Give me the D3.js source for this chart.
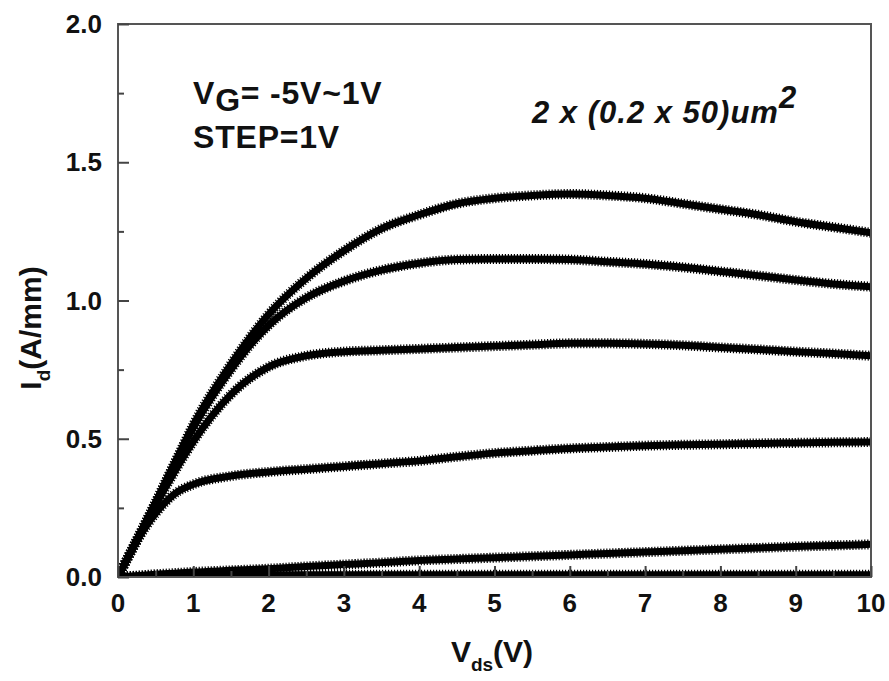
<!DOCTYPE html>
<html>
<head>
<meta charset="utf-8">
<script src="https://cdnjs.cloudflare.com/ajax/libs/d3/7.8.5/d3.min.js"></script>
<style>
  body { margin: 0; background: #fff; }
  text { font-family: "Liberation Sans", Arial, sans-serif; font-weight: bold; fill: #111; }
</style>
</head>
<body>
<script>
// drain voltage sweep (V)
var vds = [0, 0.25, 0.5, 0.75, 1, 1.5, 2, 2.5, 3, 3.5, 4, 4.5, 5, 5.5, 6, 6.5, 7, 7.5, 8, 8.5, 9, 9.5, 10];
// drain current (A/mm) per gate voltage
var id_vg1  = [0, 0.135, 0.27, 0.41, 0.55, 0.77, 0.95, 1.08, 1.18, 1.26, 1.31, 1.35, 1.37, 1.38, 1.385, 1.38, 1.37, 1.35, 1.33, 1.31, 1.285, 1.265, 1.245];
var id_vg0  = [0, 0.135, 0.27, 0.41, 0.54, 0.75, 0.91, 1.01, 1.07, 1.11, 1.135, 1.148, 1.15, 1.15, 1.148, 1.14, 1.132, 1.12, 1.105, 1.09, 1.074, 1.06, 1.05];
var id_vgm1 = [0, 0.13, 0.26, 0.38, 0.49, 0.66, 0.76, 0.80, 0.815, 0.82, 0.825, 0.83, 0.835, 0.84, 0.845, 0.845, 0.843, 0.838, 0.83, 0.823, 0.815, 0.808, 0.80];
var id_vgm2 = [0, 0.13, 0.23, 0.30, 0.335, 0.365, 0.38, 0.39, 0.40, 0.41, 0.42, 0.435, 0.448, 0.457, 0.465, 0.47, 0.475, 0.478, 0.48, 0.483, 0.485, 0.487, 0.488];
var id_vgm3 = [0, 0.005, 0.01, 0.014, 0.018, 0.024, 0.03, 0.038, 0.045, 0.052, 0.06, 0.065, 0.07, 0.075, 0.08, 0.085, 0.09, 0.095, 0.10, 0.105, 0.11, 0.114, 0.118];
var id_vgm4 = [0, 0.004, 0.006, 0.007, 0.008, 0.008, 0.008, 0.008, 0.008, 0.008, 0.008, 0.008, 0.008, 0.008, 0.008, 0.008, 0.008, 0.008, 0.008, 0.008, 0.008, 0.008, 0.008];
var id_vgm5 = [0, 0.002, 0.003, 0.003, 0.003, 0.003, 0.003, 0.003, 0.003, 0.003, 0.003, 0.003, 0.003, 0.003, 0.003, 0.003, 0.003, 0.003, 0.003, 0.003, 0.003, 0.003, 0.003];
var series = [id_vg1, id_vg0, id_vgm1, id_vgm2, id_vgm3, id_vgm4, id_vgm5];

var xTicks = [0, 1, 2, 3, 4, 5, 6, 7, 8, 9, 10];
var yTicks = [0, 0.5, 1.0, 1.5, 2.0];

var W = 889, H = 681;
var pLeft = 118, pRight = 871, pTop = 24, pBottom = 577;

var x = d3.scaleLinear().domain([0, 10]).range([pLeft, pRight]);
var y = d3.scaleLinear().domain([0, 2]).range([pBottom, pTop]);

var svg = d3.select("body").append("svg")
    .attr("width", W)
    .attr("height", H);

svg.append("clipPath").attr("id", "plot")
  .append("rect")
    .attr("x", pLeft).attr("y", pTop)
    .attr("width", pRight - pLeft).attr("height", pBottom - pTop);

// curves
var line = d3.line()
    .x(function(d, i) { return x(vds[i]); })
    .y(function(d) { return y(d); })
    .curve(d3.curveMonotoneX);

var g = svg.append("g").attr("clip-path", "url(#plot)");
g.selectAll("path.core")
    .data(series)
    .enter().append("path")
    .attr("class", "core")
    .attr("d", line)
    .attr("fill", "none")
    .attr("stroke", "#000")
    .attr("stroke-width", 7);
// serrated marker edge
g.selectAll("path.edge")
    .data(series)
    .enter().append("path")
    .attr("class", "edge")
    .attr("d", line)
    .attr("fill", "none")
    .attr("stroke", "#000")
    .attr("stroke-width", 10)
    .attr("stroke-dasharray", "1.2,1.8");

// frame
svg.append("rect")
    .attr("x", pLeft).attr("y", pTop)
    .attr("width", pRight - pLeft).attr("height", pBottom - pTop)
    .attr("fill", "none")
    .attr("stroke", "#555")
    .attr("stroke-width", 2);

// ticks inward
var xAxis = d3.axisTop(x).tickValues(xTicks).tickSize(11).tickFormat("");
var xMinor = d3.axisTop(x).tickValues(d3.range(0.5, 10, 1)).tickSize(6).tickFormat("");
var yAxis = d3.axisRight(y).tickValues(yTicks).tickSize(11).tickFormat("");
var yMinor = d3.axisRight(y).tickValues([0.25, 0.75, 1.25, 1.75]).tickSize(6).tickFormat("");

[xAxis, xMinor].forEach(function(a) {
  svg.append("g").attr("transform", "translate(0," + pBottom + ")").call(a);
});
[yAxis, yMinor].forEach(function(a) {
  svg.append("g").attr("transform", "translate(" + pLeft + ",0)").call(a);
});
svg.selectAll(".domain").remove();
svg.selectAll(".tick line").attr("stroke", "#444").attr("stroke-width", 2);

// tick labels
svg.selectAll("text.xl")
    .data(xTicks)
    .enter().append("text")
    .attr("x", function(d) { return x(d); })
    .attr("y", 612)
    .attr("text-anchor", "middle")
    .attr("font-size", 26)
    .text(function(d) { return d; });

svg.selectAll("text.yl")
    .data(yTicks)
    .enter().append("text")
    .attr("x", 102)
    .attr("y", function(d) { return y(d) + 9; })
    .attr("text-anchor", "end")
    .attr("font-size", 26)
    .text(function(d) { return d.toFixed(1); });

// axis titles
var xt = svg.append("text")
    .attr("x", 492)
    .attr("y", 662)
    .attr("text-anchor", "middle")
    .attr("font-size", 30);
xt.append("tspan").text("V");
xt.append("tspan").attr("font-size", 19).attr("dy", 9).text("ds");
xt.append("tspan").attr("dy", -9).text("(V)");

var yt = svg.append("text")
    .attr("transform", "translate(41,328) rotate(-90)")
    .attr("text-anchor", "middle")
    .attr("font-size", 30);
yt.append("tspan").text("I");
yt.append("tspan").attr("font-size", 19).attr("dy", 9).text("d");
yt.append("tspan").attr("dy", -9).text("(A/mm)");

// annotations
var a1 = svg.append("text")
    .attr("x", 193)
    .attr("y", 104)
    .attr("font-size", 32)
    .attr("letter-spacing", 0.8);
a1.append("tspan").text("V");
a1.append("tspan").attr("dy", 7).text("G");
a1.append("tspan").attr("dy", -7).text("= -5V~1V");

svg.append("text")
    .attr("x", 193)
    .attr("y", 148)
    .attr("font-size", 32)
    .attr("letter-spacing", 0.8)
    .text("STEP=1V");

var a2 = svg.append("text")
    .attr("x", 532)
    .attr("y", 123)
    .attr("font-size", 31)
    .attr("letter-spacing", 1)
    .attr("font-style", "italic");
a2.append("tspan").text("2 x (0.2 x 50)um");
a2.append("tspan").attr("dy", -15).text("2");
</script>
</body>
</html>
